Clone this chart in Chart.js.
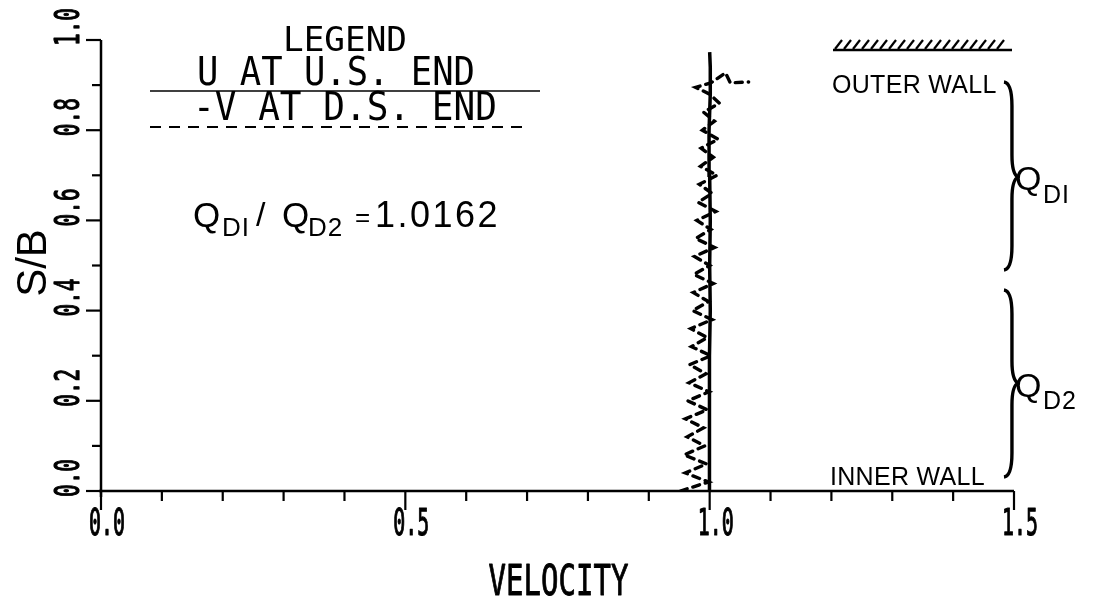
<!DOCTYPE html>
<html>
<head>
<meta charset="utf-8">
<title>Velocity profile S/B</title>
<script src="https://cdn.jsdelivr.net/npm/chart.js@4.4.1/dist/chart.umd.min.js"></script>
<style>
  html, body { margin: 0; padding: 0; background: #fff; }
  #wrap { width: 1095px; height: 598px; }
</style>
</head>
<body>
<div id="wrap"><canvas id="c" width="1095" height="598"></canvas></div>
<script>
// U at upstream end: velocity vs. S/B
const uVelocity = [1.000, 1.000, 0.999, 1.000, 1.001, 1.000, 1.001, 1.000, 0.999, 1.001, 1.001, 1.000];
const uPosition = [0.00, 0.10, 0.20, 0.30, 0.40, 0.50, 0.60, 0.70, 0.80, 0.88, 0.94, 0.973];

// -V at downstream end: velocity vs. S/B
const vVelocity = [0.952, 0.998, 0.960, 0.995, 0.958, 0.992, 0.963, 0.990, 0.960, 0.996,
                   0.964, 0.999, 0.966, 0.994, 0.967, 1.002, 0.970, 0.996, 0.969, 1.004,
                   0.972, 0.998, 0.973, 1.006, 0.974, 1.000, 0.975, 1.008, 0.977, 1.002,
                   0.979, 1.010, 0.981, 1.004, 0.983, 1.012, 0.985, 1.006, 0.986, 1.014,
                   0.988, 1.008, 0.990, 1.016, 1.000, 0.977, 1.002, 1.026, 1.034, 1.064];
const vPosition = [0.00, 0.02, 0.04, 0.06, 0.08, 0.10, 0.12, 0.14, 0.16, 0.18,
                   0.20, 0.22, 0.24, 0.26, 0.28, 0.30, 0.32, 0.34, 0.36, 0.38,
                   0.40, 0.42, 0.44, 0.46, 0.48, 0.50, 0.52, 0.54, 0.56, 0.58,
                   0.60, 0.62, 0.64, 0.66, 0.68, 0.70, 0.72, 0.74, 0.76, 0.78,
                   0.80, 0.82, 0.84, 0.86, 0.88, 0.895, 0.905, 0.927, 0.905, 0.907];

// Axis ticks and labels
const xTickValues = [0.0, 0.1, 0.2, 0.3, 0.4, 0.5, 0.6, 0.7, 0.8, 0.9, 1.0, 1.1, 1.2, 1.3, 1.4, 1.5];
const xMajorValues = [0.0, 0.5, 1.0, 1.5];
const xTickLabels = ['0.0', '0.5', '1.0', '1.5'];
const yTickValues = [0.0, 0.1, 0.2, 0.3, 0.4, 0.5, 0.6, 0.7, 0.8, 0.9, 1.0];
const yMajorValues = [0.0, 0.2, 0.4, 0.6, 0.8, 1.0];
const yTickLabels = ['0.0', '0.2', '0.4', '0.6', '0.8', '1.0'];

const xTitle = 'VELOCITY';
const yTitle = 'S/B';
const legendTitle = 'LEGEND';
const seriesNames = ['U AT U.S. END', '-V AT D.S. END'];
const flowRatio = '1.0162';

const PLOT_FONT = '"DejaVu Sans Mono", monospace';
const TYPE_FONT = '"Liberation Sans", Arial, sans-serif';

function toPoints(xs, ys) {
  return xs.map((v, i) => ({ x: v, y: ys[i] }));
}

// Plotter-style lettering: cap height and overall width are set explicitly;
// `pen` adds an outline stroke to thicken the lettering slightly
function plotText(ctx, str, x, y, capH, width, align, rotate, pen) {
  const size = capH / 0.73;
  ctx.save();
  ctx.font = size + 'px ' + PLOT_FONT;
  const w0 = ctx.measureText(str).width;
  const sx = width ? width / w0 : 0.72;
  ctx.translate(x, y);
  if (rotate) ctx.rotate(-Math.PI / 2);
  ctx.scale(sx, 1);
  ctx.textAlign = align || 'left';
  ctx.textBaseline = 'alphabetic';
  ctx.fillStyle = '#000';
  const by = rotate ? capH / 2 : 0;
  ctx.fillText(str, 0, by);
  if (pen) {
    ctx.strokeStyle = '#000';
    ctx.lineWidth = pen;
    ctx.lineJoin = 'round';
    ctx.strokeText(str, 0, by);
  }
  ctx.restore();
}

function typeText(ctx, str, x, y, size, spacing) {
  ctx.save();
  ctx.font = size + 'px ' + TYPE_FONT;
  if (spacing && 'letterSpacing' in ctx) ctx.letterSpacing = spacing + 'px';
  ctx.fillStyle = '#000';
  ctx.textAlign = 'left';
  ctx.textBaseline = 'alphabetic';
  ctx.fillText(str, x, y);
  ctx.restore();
}

function brace(ctx, x, y1, y2, ym, w) {
  const m = x + w * 0.45;
  ctx.beginPath();
  ctx.moveTo(x - 3, y1);
  ctx.quadraticCurveTo(m, y1 + 1, m, y1 + 24);
  ctx.lineTo(m, ym - 22);
  ctx.quadraticCurveTo(m, ym - 3, x + w, ym);
  ctx.quadraticCurveTo(m, ym + 3, m, ym + 22);
  ctx.lineTo(m, y2 - 24);
  ctx.quadraticCurveTo(m, y2 - 1, x - 3, y2);
  ctx.stroke();
}

const axesPlugin = {
  id: 'plotterAxes',
  afterDatasetsDraw(chart) {
    const ctx = chart.ctx;
    const xs = chart.scales.x, ys = chart.scales.y;
    const x0 = xs.getPixelForValue(0), x1 = xs.getPixelForValue(1.5);
    const y0 = ys.getPixelForValue(0), y1 = ys.getPixelForValue(1.0);
    ctx.save();
    ctx.strokeStyle = '#000';
    ctx.lineCap = 'butt';
    // axis lines
    ctx.lineWidth = 2.5;
    ctx.beginPath();
    ctx.moveTo(x0 - 2, y0); ctx.lineTo(x1, y0);
    ctx.moveTo(x0, y1); ctx.lineTo(x0, y0 + 6);
    ctx.stroke();
    // x ticks (downward)
    ctx.lineWidth = 2.2;
    xTickValues.forEach(v => {
      const px = xs.getPixelForValue(v);
      const len = xMajorValues.includes(v) ? 19 : 10;
      ctx.beginPath(); ctx.moveTo(px, y0); ctx.lineTo(px, y0 + len); ctx.stroke();
    });
    // y ticks (leftward)
    yTickValues.forEach(v => {
      const py = ys.getPixelForValue(v);
      const len = yMajorValues.includes(v) ? 15 : 9;
      ctx.beginPath(); ctx.moveTo(x0, py); ctx.lineTo(x0 - len, py); ctx.stroke();
    });
    ctx.restore();
    // tick labels
    xMajorValues.forEach((v, i) => {
      plotText(ctx, xTickLabels[i], xs.getPixelForValue(v) + 6, y0 + 44, 27, 36, 'center', false, 1.2);
    });
    yMajorValues.forEach((v, i) => {
      plotText(ctx, yTickLabels[i], x0 - 34, ys.getPixelForValue(v) - 13, 24, 38, 'center', true, 1.2);
    });
    // axis titles
    plotText(ctx, xTitle, (x0 + x1) / 2 + 1, y0 + 104, 31, 140, 'center', false, 0.9);
    ctx.save();
    ctx.translate(31, 263);
    ctx.rotate(-Math.PI / 2);
    ctx.font = '42px ' + TYPE_FONT;
    ctx.textAlign = 'center';
    ctx.textBaseline = 'alphabetic';
    ctx.fillStyle = '#000';
    ctx.fillText(yTitle, 0, 15);
    ctx.restore();
  }
};

const notesPlugin = {
  id: 'plotNotes',
  afterDraw(chart) {
    const ctx = chart.ctx;
    // legend block
    plotText(ctx, legendTitle, 345, 51, 24, 124, 'center');
    plotText(ctx, seriesNames[0], 197, 85, 28, 278, 'left');
    plotText(ctx, seriesNames[1], 193, 120, 28, 304, 'left');
    ctx.save();
    ctx.strokeStyle = '#000';
    ctx.lineWidth = 1.6;
    ctx.beginPath(); ctx.moveTo(150, 91); ctx.lineTo(540, 91); ctx.stroke();
    ctx.lineWidth = 2.2;
    ctx.setLineDash([11, 8]);
    ctx.beginPath(); ctx.moveTo(150, 127); ctx.lineTo(530, 127); ctx.stroke();
    ctx.restore();

    // discharge ratio
    typeText(ctx, 'Q', 193, 227, 35);
    typeText(ctx, 'DI', 222, 236, 26, 1);
    typeText(ctx, '/', 256, 226, 34);
    typeText(ctx, 'Q', 282, 227, 35);
    typeText(ctx, 'D2', 308, 236, 26, 1);
    typeText(ctx, '=', 355, 226, 26);
    typeText(ctx, flowRatio, 375, 227, 36, 2.5);

    // outer wall hatching
    ctx.save();
    ctx.strokeStyle = '#000';
    ctx.lineWidth = 2.4;
    ctx.beginPath(); ctx.moveTo(833, 50); ctx.lineTo(1012, 50); ctx.stroke();
    ctx.lineWidth = 2.2;
    for (let hx = 835; hx <= 1003; hx += 9) {
      ctx.beginPath(); ctx.moveTo(hx, 49); ctx.lineTo(hx + 7, 40); ctx.stroke();
    }
    ctx.restore();
    typeText(ctx, 'OUTER WALL', 832, 93, 25, 0.3);
    typeText(ctx, 'INNER WALL', 830, 485, 25, 0.3);

    // braces and discharge zones
    ctx.save();
    ctx.strokeStyle = '#000';
    ctx.lineWidth = 3.4;
    ctx.lineJoin = 'round';
    brace(ctx, 1007, 82, 270, 177, 11);
    brace(ctx, 1007, 290, 477, 383, 11);
    ctx.restore();
    typeText(ctx, 'Q', 1015, 190, 34);
    typeText(ctx, 'DI', 1043, 203, 25, 1);
    typeText(ctx, 'Q', 1015, 397, 34);
    typeText(ctx, 'D2', 1043, 409, 25, 1);
  }
};

new Chart(document.getElementById('c'), {
  type: 'scatter',
  data: {
    datasets: [
      {
        label: seriesNames[0],
        data: toPoints(uVelocity, uPosition),
        showLine: true,
        borderColor: '#000',
        borderWidth: 3.5,
        pointRadius: 0,
        tension: 0
      },
      {
        label: seriesNames[1],
        data: toPoints(vVelocity, vPosition),
        showLine: true,
        borderColor: '#000',
        borderWidth: 3.4,
        borderDash: [7, 6],
        borderCapStyle: 'round',
        pointRadius: 0,
        tension: 0
      }
    ]
  },
  options: {
    responsive: false,
    animation: false,
    devicePixelRatio: 1,
    layout: { padding: { left: 101, right: 81, top: 40, bottom: 107 } },
    plugins: { legend: { display: false }, tooltip: { enabled: false } },
    scales: {
      x: { type: 'linear', min: 0, max: 1.5, display: false },
      y: { type: 'linear', min: 0, max: 1.0, display: false }
    }
  },
  plugins: [axesPlugin, notesPlugin]
});
</script>
</body>
</html>
